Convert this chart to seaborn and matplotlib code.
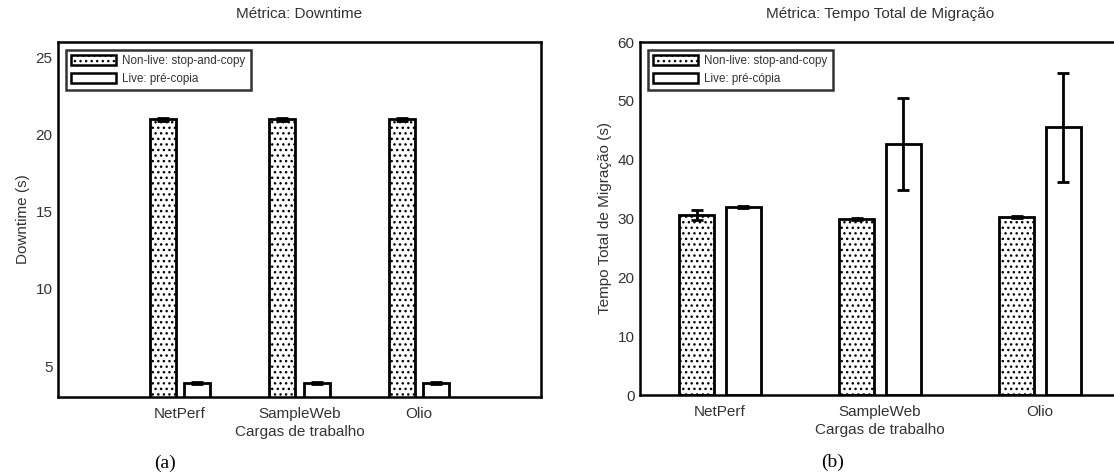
import numpy as np
import pandas as pd
import matplotlib
matplotlib.use("Agg")
import matplotlib.pyplot as plt
from matplotlib.patches import Patch
import seaborn as sns

# ---- data ----
workloads = ["NetPerf", "SampleWeb", "Olio"]
series = ["Non-live: stop-and-copy", "Live: pré-copia"]
series_b = ["Non-live: stop-and-copy", "Live: pré-cópia"]

downtime_nonlive = [21.0, 21.0, 21.0]
downtime_nonlive_err = [0.1, 0.1, 0.1]
downtime_live = [3.9, 3.9, 3.9]
downtime_live_err = [0.08, 0.08, 0.08]

total_nonlive = [30.6, 29.9, 30.2]
total_nonlive_err = [0.9, 0.2, 0.2]
total_live = [32.0, 42.6, 45.5]
total_live_err = [0.2, 7.8, 9.3]

sns.set_theme(style="white")
plt.rcParams["font.family"] = ["Liberation Sans", "DejaVu Sans"]
plt.rcParams["hatch.linewidth"] = 1.0
TXT = "#333333"

fig = plt.figure(figsize=(11.14, 4.73), dpi=100)
ax_a = fig.add_axes([58 / 1114, 76 / 473, 483 / 1114, 355 / 473])
ax_b = fig.add_axes([640 / 1114, 78 / 473, 480 / 1114, 353 / 473])


def draw(ax, nonlive, nonlive_err, live, live_err, labels, ylabel, title, ylim, yticks, xlim):
    df = pd.DataFrame({
        "workload": workloads * 2,
        "serie": [labels[0]] * 3 + [labels[1]] * 3,
        "value": list(nonlive) + list(live),
    })
    sns.barplot(data=df, x="workload", y="value", hue="serie", order=workloads,
                hue_order=labels, errorbar=None, width=0.58, gap=0.25,
                palette=["white", "white"], edgecolor="black", linewidth=2.0,
                ax=ax, legend=False)
    errs = list(nonlive_err) + list(live_err)
    vals = list(nonlive) + list(live)
    patches = ax.patches[:6]
    for i, p in enumerate(patches):
        if i < 3:
            p.set_hatch("...")
        xc = p.get_x() + p.get_width() / 2
        ax.errorbar(xc, vals[i], yerr=errs[i], fmt="none", ecolor="black",
                    elinewidth=2.0, capsize=4, capthick=2.0, zorder=5)
    ax.set_ylim(*ylim)
    ax.set_yticks(yticks)
    ax.set_xlim(*xlim)
    ax.set_xlabel("Cargas de trabalho", fontsize=11, color=TXT, labelpad=3)
    ax.set_ylabel(ylabel, fontsize=11, color=TXT, labelpad=4)
    ax.set_title(title, fontsize=11, color=TXT, pad=17)
    ax.tick_params(axis="both", length=0, labelsize=11, labelcolor=TXT)
    ax.tick_params(axis="x", pad=7)
    ax.tick_params(axis="y", pad=4)
    for s in ax.spines.values():
        s.set_visible(True)
        s.set_color("black")
        s.set_linewidth(1.8)
    handles = [Patch(facecolor="white", edgecolor="black", hatch="...", linewidth=1.8),
               Patch(facecolor="white", edgecolor="black", linewidth=1.8)]
    leg = ax.legend(handles, labels, loc="upper left", fontsize=8.4, frameon=True,
                    fancybox=False, edgecolor="black", handlelength=3.9, handleheight=0.95,
                    borderaxespad=0.65, borderpad=0.45, labelspacing=0.5, handletextpad=0.5)
    leg.get_frame().set_linewidth(1.8)
    for t in leg.get_texts():
        t.set_color(TXT)


draw(ax_a, downtime_nonlive, downtime_nonlive_err, downtime_live, downtime_live_err,
     series, "Downtime (s)", "Métrica: Downtime", (3, 26), [5, 10, 15, 20, 25], (-1.02, 3.02))
draw(ax_b, total_nonlive, total_nonlive_err, total_live, total_live_err,
     series_b, "Tempo Total de Migração (s)", "Métrica: Tempo Total de Migração",
     (0, 60), [0, 10, 20, 30, 40, 50, 60], (-0.5, 2.5))

fig.text(165 / 1114, 1 - 463 / 473, "(a)", family="Liberation Serif", fontsize=14,
         ha="center", va="center", color="black")
fig.text(833 / 1114, 1 - 462 / 473, "(b)", family="Liberation Serif", fontsize=14,
         ha="center", va="center", color="black")

fig.savefig("out.png", dpi=100, facecolor="white")
